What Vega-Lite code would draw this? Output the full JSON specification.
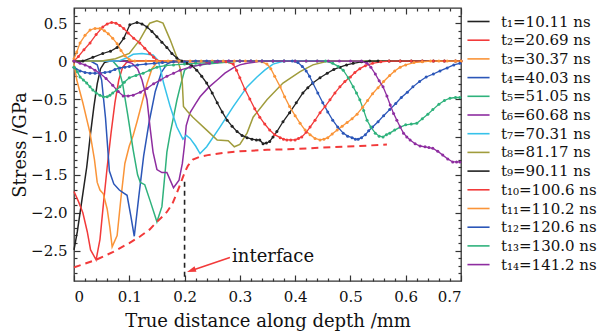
{
"$schema": "https://vega.github.io/schema/vega-lite/v6.json",
"width": 387, "height": 273,
"autosize": {"type": "none"},
"padding": {"left": 74, "top": 8, "right": 145, "bottom": 50},
"background": "white",
"config": {
 "view": {"stroke": "#333", "strokeWidth": 1.3},
 "font": "DejaVu Serif",
 "axis": {"labelFont": "DejaVu Serif", "titleFont": "DejaVu Serif", "labelColor": "#111", "titleColor": "#111", "titleFontWeight": "normal", "grid": false, "domain": false, "tickColor": "#333", "tickWidth": 1.2, "labelFontSize": 15, "titleFontSize": 18}
},
"datasets": {
 "labels": [
  {"k":1,"t":"t₁=10.11 ns"},{"k":2,"t":"t₂=20.69 ns"},{"k":3,"t":"t₃=30.37 ns"},{"k":4,"t":"t₄=40.03 ns"},{"k":5,"t":"t₅=51.05 ns"},{"k":6,"t":"t₆=60.68 ns"},{"k":7,"t":"t₇=70.31 ns"},{"k":8,"t":"t₈=81.17 ns"},{"k":9,"t":"t₉=90.11 ns"},{"k":10,"t":"t₁₀=100.6 ns"},{"k":11,"t":"t₁₁=110.2 ns"},{"k":12,"t":"t₁₂=120.6 ns"},{"k":13,"t":"t₁₃=130.0 ns"},{"k":14,"t":"t₁₄=141.2 ns"}
 ],
 "solid": [
  {"k":1,"x":0,"y":-2.49},{"k":1,"x":0.006,"y":-2.25},{"k":1,"x":0.012,"y":-1.95},{"k":1,"x":0.018,"y":-1.65},{"k":1,"x":0.023,"y":-1.4},{"k":1,"x":0.03,"y":-0.95},{"k":1,"x":0.036,"y":-0.6},{"k":1,"x":0.042,"y":-0.3},{"k":1,"x":0.048,"y":-0.1},{"k":1,"x":0.055,"y":-0.02},{"k":1,"x":0.065,"y":0},{"k":1,"x":0.7,"y":0},
  {"k":2,"x":0,"y":-1.72},{"k":2,"x":0.008,"y":-1.85},{"k":2,"x":0.016,"y":-2.0},{"k":2,"x":0.024,"y":-2.25},{"k":2,"x":0.03,"y":-2.49},{"k":2,"x":0.04,"y":-2.62},{"k":2,"x":0.047,"y":-2.35},{"k":2,"x":0.053,"y":-1.9},{"k":2,"x":0.06,"y":-1.4},{"k":2,"x":0.067,"y":-0.95},{"k":2,"x":0.074,"y":-0.55},{"k":2,"x":0.081,"y":-0.25},{"k":2,"x":0.088,"y":-0.08},{"k":2,"x":0.095,"y":-0.02},{"k":2,"x":0.105,"y":0},{"k":2,"x":0.7,"y":0},
  {"k":3,"x":0,"y":-0.03},{"k":3,"x":0.005,"y":-0.25},{"k":3,"x":0.016,"y":-0.55},{"k":3,"x":0.029,"y":-0.95},{"k":3,"x":0.037,"y":-1.3},{"k":3,"x":0.042,"y":-1.6},{"k":3,"x":0.047,"y":-1.7},{"k":3,"x":0.053,"y":-1.75},{"k":3,"x":0.06,"y":-1.95},{"k":3,"x":0.065,"y":-2.2},{"k":3,"x":0.069,"y":-2.45},{"k":3,"x":0.078,"y":-2.3},{"k":3,"x":0.085,"y":-1.8},{"k":3,"x":0.092,"y":-1.35},{"k":3,"x":0.1,"y":-1.12},{"k":3,"x":0.107,"y":-0.98},{"k":3,"x":0.114,"y":-0.8},{"k":3,"x":0.123,"y":-0.55},{"k":3,"x":0.132,"y":-0.3},{"k":3,"x":0.141,"y":-0.1},{"k":3,"x":0.15,"y":-0.02},{"k":3,"x":0.16,"y":0},{"k":3,"x":0.7,"y":0},
  {"k":4,"x":0,"y":0},{"k":4,"x":0.03,"y":0},{"k":4,"x":0.042,"y":-0.05},{"k":4,"x":0.05,"y":-0.25},{"k":4,"x":0.057,"y":-0.75},{"k":4,"x":0.064,"y":-1.45},{"k":4,"x":0.072,"y":-1.62},{"k":4,"x":0.082,"y":-1.7},{"k":4,"x":0.09,"y":-1.74},{"k":4,"x":0.096,"y":-1.77},{"k":4,"x":0.103,"y":-2.05},{"k":4,"x":0.109,"y":-2.31},{"k":4,"x":0.117,"y":-1.8},{"k":4,"x":0.126,"y":-1.25},{"k":4,"x":0.136,"y":-0.8},{"k":4,"x":0.147,"y":-0.4},{"k":4,"x":0.158,"y":-0.15},{"k":4,"x":0.168,"y":-0.04},{"k":4,"x":0.18,"y":0},{"k":4,"x":0.7,"y":0},
  {"k":5,"x":0,"y":0},{"k":5,"x":0.07,"y":0},{"k":5,"x":0.08,"y":-0.08},{"k":5,"x":0.088,"y":-0.3},{"k":5,"x":0.097,"y":-0.7},{"k":5,"x":0.107,"y":-1.17},{"k":5,"x":0.115,"y":-1.5},{"k":5,"x":0.12,"y":-1.6},{"k":5,"x":0.128,"y":-1.63},{"k":5,"x":0.138,"y":-1.85},{"k":5,"x":0.15,"y":-2.12},{"k":5,"x":0.159,"y":-1.92},{"k":5,"x":0.165,"y":-1.45},{"k":5,"x":0.168,"y":-1.2},{"k":5,"x":0.174,"y":-0.95},{"k":5,"x":0.18,"y":-0.74},{"k":5,"x":0.186,"y":-0.52},{"k":5,"x":0.192,"y":-0.34},{"k":5,"x":0.2,"y":-0.12},{"k":5,"x":0.21,"y":-0.07},{"k":5,"x":0.24,"y":-0.04},{"k":5,"x":0.27,"y":-0.02},{"k":5,"x":0.3,"y":0},{"k":5,"x":0.7,"y":0},
  {"k":6,"x":0,"y":0},{"k":6,"x":0.09,"y":0},{"k":6,"x":0.105,"y":-0.03},{"k":6,"x":0.115,"y":-0.1},{"k":6,"x":0.123,"y":-0.25},{"k":6,"x":0.132,"y":-0.51},{"k":6,"x":0.138,"y":-0.9},{"k":6,"x":0.143,"y":-1.2},{"k":6,"x":0.15,"y":-1.43},{"k":6,"x":0.159,"y":-1.47},{"k":6,"x":0.168,"y":-1.47},{"k":6,"x":0.174,"y":-1.57},{"k":6,"x":0.18,"y":-1.67},{"k":6,"x":0.19,"y":-1.57},{"k":6,"x":0.196,"y":-1.35},{"k":6,"x":0.2,"y":-1.1},{"k":6,"x":0.203,"y":-0.85},{"k":6,"x":0.21,"y":-0.68},{"k":6,"x":0.22,"y":-0.56},{"k":6,"x":0.228,"y":-0.47},{"k":6,"x":0.243,"y":-0.35},{"k":6,"x":0.259,"y":-0.25},{"k":6,"x":0.273,"y":-0.16},{"k":6,"x":0.288,"y":-0.09},{"k":6,"x":0.3,"y":-0.05},{"k":6,"x":0.313,"y":-0.03},{"k":6,"x":0.34,"y":0},{"k":6,"x":0.7,"y":0},
  {"k":7,"x":0,"y":0},{"k":7,"x":0.08,"y":0},{"k":7,"x":0.095,"y":0.04},{"k":7,"x":0.107,"y":0.09},{"k":7,"x":0.123,"y":0.1},{"k":7,"x":0.143,"y":0.08},{"k":7,"x":0.152,"y":0.01},{"k":7,"x":0.157,"y":-0.12},{"k":7,"x":0.162,"y":-0.29},{"k":7,"x":0.174,"y":-0.6},{"k":7,"x":0.186,"y":-0.87},{"k":7,"x":0.197,"y":-1.03},{"k":7,"x":0.203,"y":-0.98},{"k":7,"x":0.21,"y":-1.02},{"k":7,"x":0.22,"y":-1.12},{"k":7,"x":0.228,"y":-1.22},{"k":7,"x":0.24,"y":-1.13},{"k":7,"x":0.264,"y":-0.87},{"k":7,"x":0.288,"y":-0.6},{"k":7,"x":0.313,"y":-0.34},{"k":7,"x":0.331,"y":-0.21},{"k":7,"x":0.345,"y":-0.12},{"k":7,"x":0.36,"y":-0.04},{"k":7,"x":0.38,"y":0},{"k":7,"x":0.7,"y":0},
  {"k":8,"x":0,"y":0},{"k":8,"x":0.05,"y":0},{"k":8,"x":0.075,"y":0.03},{"k":8,"x":0.1,"y":0.1},{"k":8,"x":0.119,"y":0.28},{"k":8,"x":0.13,"y":0.42},{"k":8,"x":0.137,"y":0.5},{"k":8,"x":0.15,"y":0.53},{"k":8,"x":0.161,"y":0.5},{"k":8,"x":0.174,"y":0.28},{"k":8,"x":0.186,"y":0.05},{"k":8,"x":0.193,"y":-0.12},{"k":8,"x":0.196,"y":-0.3},{"k":8,"x":0.198,"y":-0.6},{"k":8,"x":0.205,"y":-0.66},{"k":8,"x":0.215,"y":-0.74},{"k":8,"x":0.24,"y":-0.91},{"k":8,"x":0.259,"y":-1.04},{"k":8,"x":0.279,"y":-1.05},{"k":8,"x":0.29,"y":-1.13},{"k":8,"x":0.3,"y":-1.1},{"k":8,"x":0.313,"y":-0.95},{"k":8,"x":0.324,"y":-0.74},{"k":8,"x":0.349,"y":-0.51},{"k":8,"x":0.378,"y":-0.29},{"k":8,"x":0.409,"y":-0.14},{"k":8,"x":0.432,"y":-0.05},{"k":8,"x":0.46,"y":0},{"k":8,"x":0.7,"y":0}
 ],
 "dotted": [
  {"k":9,"x":0,"y":0},{"k":9,"x":0.016,"y":0},{"k":9,"x":0.034,"y":0.05},{"k":9,"x":0.052,"y":0.1},{"k":9,"x":0.066,"y":0.13},{"k":9,"x":0.078,"y":0.18},{"k":9,"x":0.09,"y":0.3},{"k":9,"x":0.101,"y":0.48},{"k":9,"x":0.114,"y":0.51},{"k":9,"x":0.123,"y":0.49},{"k":9,"x":0.132,"y":0.45},{"k":9,"x":0.141,"y":0.39},{"k":9,"x":0.15,"y":0.32},{"k":9,"x":0.159,"y":0.25},{"k":9,"x":0.168,"y":0.18},{"k":9,"x":0.177,"y":0.1},{"k":9,"x":0.186,"y":0.04},{"k":9,"x":0.195,"y":0.0},{"k":9,"x":0.204,"y":-0.03},{"k":9,"x":0.213,"y":-0.06},{"k":9,"x":0.222,"y":-0.12},{"k":9,"x":0.231,"y":-0.2},{"k":9,"x":0.24,"y":-0.29},{"k":9,"x":0.25,"y":-0.42},{"k":9,"x":0.259,"y":-0.55},{"k":9,"x":0.268,"y":-0.67},{"k":9,"x":0.277,"y":-0.78},{"k":9,"x":0.286,"y":-0.86},{"k":9,"x":0.295,"y":-0.93},{"k":9,"x":0.304,"y":-0.98},{"k":9,"x":0.313,"y":-1.01},{"k":9,"x":0.322,"y":-1.03},{"k":9,"x":0.33,"y":-1.04},{"k":9,"x":0.336,"y":-1.04},{"k":9,"x":0.342,"y":-1.09},{"k":9,"x":0.348,"y":-1.08},{"k":9,"x":0.354,"y":-1.06},{"k":9,"x":0.36,"y":-1.0},{"k":9,"x":0.367,"y":-0.93},{"k":9,"x":0.378,"y":-0.8},{"k":9,"x":0.39,"y":-0.68},{"k":9,"x":0.402,"y":-0.55},{"k":9,"x":0.414,"y":-0.42},{"k":9,"x":0.423,"y":-0.35},{"k":9,"x":0.432,"y":-0.29},{"k":9,"x":0.445,"y":-0.22},{"k":9,"x":0.458,"y":-0.16},{"k":9,"x":0.47,"y":-0.11},{"k":9,"x":0.481,"y":-0.08},{"k":9,"x":0.493,"y":-0.05},{"k":9,"x":0.505,"y":-0.03},{"k":9,"x":0.52,"y":-0.01},{"k":9,"x":0.535,"y":0},{"k":9,"x":0.55,"y":0},{"k":9,"x":0.57,"y":0},{"k":9,"x":0.59,"y":0},{"k":9,"x":0.61,"y":0},{"k":9,"x":0.63,"y":0},{"k":9,"x":0.65,"y":0},{"k":9,"x":0.67,"y":0},{"k":9,"x":0.69,"y":0},{"k":9,"x":0.7,"y":0},
  {"k":10,"x":0,"y":0},{"k":10,"x":0.008,"y":0.06},{"k":10,"x":0.018,"y":0.15},{"k":10,"x":0.029,"y":0.24},{"k":10,"x":0.04,"y":0.35},{"k":10,"x":0.052,"y":0.45},{"k":10,"x":0.06,"y":0.49},{"k":10,"x":0.068,"y":0.51},{"k":10,"x":0.076,"y":0.5},{"k":10,"x":0.083,"y":0.47},{"k":10,"x":0.09,"y":0.43},{"k":10,"x":0.098,"y":0.37},{"k":10,"x":0.108,"y":0.3},{"k":10,"x":0.119,"y":0.24},{"k":10,"x":0.128,"y":0.17},{"k":10,"x":0.137,"y":0.1},{"k":10,"x":0.144,"y":0.05},{"k":10,"x":0.15,"y":0.01},{"k":10,"x":0.16,"y":-0.01},{"k":10,"x":0.18,"y":-0.01},{"k":10,"x":0.2,"y":-0.01},{"k":10,"x":0.22,"y":-0.01},{"k":10,"x":0.24,"y":-0.01},{"k":10,"x":0.26,"y":-0.01},{"k":10,"x":0.275,"y":-0.01},{"k":10,"x":0.288,"y":-0.04},{"k":10,"x":0.294,"y":-0.12},{"k":10,"x":0.3,"y":-0.22},{"k":10,"x":0.309,"y":-0.37},{"k":10,"x":0.318,"y":-0.5},{"k":10,"x":0.327,"y":-0.63},{"k":10,"x":0.336,"y":-0.74},{"k":10,"x":0.345,"y":-0.83},{"k":10,"x":0.354,"y":-0.91},{"k":10,"x":0.363,"y":-0.97},{"k":10,"x":0.373,"y":-1.01},{"k":10,"x":0.379,"y":-1.03},{"k":10,"x":0.385,"y":-1.04},{"k":10,"x":0.392,"y":-1.04},{"k":10,"x":0.4,"y":-1.04},{"k":10,"x":0.406,"y":-1.02},{"k":10,"x":0.412,"y":-1.0},{"k":10,"x":0.42,"y":-0.94},{"k":10,"x":0.427,"y":-0.87},{"k":10,"x":0.436,"y":-0.78},{"k":10,"x":0.445,"y":-0.68},{"k":10,"x":0.454,"y":-0.6},{"k":10,"x":0.463,"y":-0.51},{"k":10,"x":0.472,"y":-0.42},{"k":10,"x":0.481,"y":-0.34},{"k":10,"x":0.49,"y":-0.27},{"k":10,"x":0.5,"y":-0.21},{"k":10,"x":0.508,"y":-0.15},{"k":10,"x":0.517,"y":-0.1},{"k":10,"x":0.527,"y":-0.06},{"k":10,"x":0.54,"y":-0.03},{"k":10,"x":0.555,"y":-0.01},{"k":10,"x":0.57,"y":0},{"k":10,"x":0.59,"y":0},{"k":10,"x":0.61,"y":0},{"k":10,"x":0.63,"y":0},{"k":10,"x":0.65,"y":0},{"k":10,"x":0.67,"y":0},{"k":10,"x":0.69,"y":0},{"k":10,"x":0.7,"y":0},
  {"k":11,"x":0,"y":0.03},{"k":11,"x":0.005,"y":0.12},{"k":11,"x":0.011,"y":0.24},{"k":11,"x":0.02,"y":0.34},{"k":11,"x":0.029,"y":0.41},{"k":11,"x":0.038,"y":0.43},{"k":11,"x":0.047,"y":0.43},{"k":11,"x":0.055,"y":0.4},{"k":11,"x":0.062,"y":0.36},{"k":11,"x":0.07,"y":0.3},{"k":11,"x":0.078,"y":0.23},{"k":11,"x":0.085,"y":0.14},{"k":11,"x":0.092,"y":0.07},{"k":11,"x":0.1,"y":0.02},{"k":11,"x":0.11,"y":0},{"k":11,"x":0.13,"y":0},{"k":11,"x":0.15,"y":0},{"k":11,"x":0.17,"y":0},{"k":11,"x":0.19,"y":0},{"k":11,"x":0.21,"y":0},{"k":11,"x":0.23,"y":0},{"k":11,"x":0.25,"y":0},{"k":11,"x":0.27,"y":0},{"k":11,"x":0.29,"y":0},{"k":11,"x":0.31,"y":0},{"k":11,"x":0.33,"y":0},{"k":11,"x":0.34,"y":-0.01},{"k":11,"x":0.349,"y":-0.04},{"k":11,"x":0.356,"y":-0.1},{"k":11,"x":0.363,"y":-0.2},{"k":11,"x":0.373,"y":-0.34},{"k":11,"x":0.381,"y":-0.47},{"k":11,"x":0.39,"y":-0.6},{"k":11,"x":0.4,"y":-0.72},{"k":11,"x":0.409,"y":-0.82},{"k":11,"x":0.418,"y":-0.91},{"k":11,"x":0.427,"y":-0.97},{"k":11,"x":0.436,"y":-1.02},{"k":11,"x":0.445,"y":-1.04},{"k":11,"x":0.452,"y":-1.03},{"k":11,"x":0.459,"y":-1.01},{"k":11,"x":0.467,"y":-0.96},{"k":11,"x":0.476,"y":-0.91},{"k":11,"x":0.485,"y":-0.86},{"k":11,"x":0.494,"y":-0.81},{"k":11,"x":0.503,"y":-0.76},{"k":11,"x":0.512,"y":-0.7},{"k":11,"x":0.522,"y":-0.61},{"k":11,"x":0.531,"y":-0.52},{"k":11,"x":0.54,"y":-0.43},{"k":11,"x":0.55,"y":-0.35},{"k":11,"x":0.56,"y":-0.27},{"k":11,"x":0.571,"y":-0.19},{"k":11,"x":0.58,"y":-0.13},{"k":11,"x":0.59,"y":-0.08},{"k":11,"x":0.6,"y":-0.05},{"k":11,"x":0.615,"y":-0.02},{"k":11,"x":0.63,"y":-0.01},{"k":11,"x":0.645,"y":0},{"k":11,"x":0.66,"y":0},{"k":11,"x":0.675,"y":0},{"k":11,"x":0.69,"y":0},{"k":11,"x":0.7,"y":0},
  {"k":12,"x":0,"y":-0.08},{"k":12,"x":0.011,"y":-0.13},{"k":12,"x":0.02,"y":-0.15},{"k":12,"x":0.029,"y":-0.16},{"k":12,"x":0.038,"y":-0.16},{"k":12,"x":0.047,"y":-0.16},{"k":12,"x":0.056,"y":-0.15},{"k":12,"x":0.065,"y":-0.14},{"k":12,"x":0.074,"y":-0.11},{"k":12,"x":0.083,"y":-0.09},{"k":12,"x":0.092,"y":-0.08},{"k":12,"x":0.1,"y":-0.07},{"k":12,"x":0.115,"y":-0.05},{"k":12,"x":0.13,"y":-0.04},{"k":12,"x":0.145,"y":-0.03},{"k":12,"x":0.16,"y":-0.02},{"k":12,"x":0.18,"y":-0.01},{"k":12,"x":0.2,"y":-0.01},{"k":12,"x":0.22,"y":0},{"k":12,"x":0.24,"y":0},{"k":12,"x":0.26,"y":0},{"k":12,"x":0.28,"y":0},{"k":12,"x":0.3,"y":0},{"k":12,"x":0.32,"y":0},{"k":12,"x":0.34,"y":0},{"k":12,"x":0.36,"y":0},{"k":12,"x":0.38,"y":0},{"k":12,"x":0.395,"y":0},{"k":12,"x":0.405,"y":-0.02},{"k":12,"x":0.413,"y":-0.07},{"k":12,"x":0.42,"y":-0.13},{"k":12,"x":0.426,"y":-0.2},{"k":12,"x":0.432,"y":-0.29},{"k":12,"x":0.441,"y":-0.42},{"k":12,"x":0.45,"y":-0.55},{"k":12,"x":0.459,"y":-0.67},{"k":12,"x":0.468,"y":-0.78},{"k":12,"x":0.477,"y":-0.87},{"k":12,"x":0.487,"y":-0.95},{"k":12,"x":0.495,"y":-0.99},{"k":12,"x":0.503,"y":-1.01},{"k":12,"x":0.509,"y":-1.03},{"k":12,"x":0.514,"y":-1.03},{"k":12,"x":0.52,"y":-1.01},{"k":12,"x":0.527,"y":-0.97},{"k":12,"x":0.533,"y":-0.92},{"k":12,"x":0.54,"y":-0.87},{"k":12,"x":0.55,"y":-0.8},{"k":12,"x":0.56,"y":-0.72},{"k":12,"x":0.571,"y":-0.64},{"k":12,"x":0.582,"y":-0.56},{"k":12,"x":0.592,"y":-0.48},{"k":12,"x":0.603,"y":-0.41},{"k":12,"x":0.613,"y":-0.34},{"k":12,"x":0.625,"y":-0.27},{"k":12,"x":0.637,"y":-0.21},{"k":12,"x":0.65,"y":-0.17},{"k":12,"x":0.662,"y":-0.13},{"k":12,"x":0.675,"y":-0.09},{"k":12,"x":0.687,"y":-0.05},{"k":12,"x":0.698,"y":-0.03},
  {"k":13,"x":0,"y":-0.08},{"k":13,"x":0.006,"y":-0.14},{"k":13,"x":0.011,"y":-0.21},{"k":13,"x":0.017,"y":-0.25},{"k":13,"x":0.023,"y":-0.29},{"k":13,"x":0.029,"y":-0.34},{"k":13,"x":0.034,"y":-0.38},{"k":13,"x":0.04,"y":-0.42},{"k":13,"x":0.047,"y":-0.45},{"k":13,"x":0.053,"y":-0.47},{"k":13,"x":0.06,"y":-0.47},{"k":13,"x":0.065,"y":-0.45},{"k":13,"x":0.07,"y":-0.42},{"k":13,"x":0.077,"y":-0.38},{"k":13,"x":0.083,"y":-0.34},{"k":13,"x":0.091,"y":-0.28},{"k":13,"x":0.1,"y":-0.22},{"k":13,"x":0.112,"y":-0.19},{"k":13,"x":0.125,"y":-0.16},{"k":13,"x":0.137,"y":-0.12},{"k":13,"x":0.15,"y":-0.08},{"k":13,"x":0.165,"y":-0.06},{"k":13,"x":0.18,"y":-0.05},{"k":13,"x":0.2,"y":-0.04},{"k":13,"x":0.22,"y":-0.03},{"k":13,"x":0.25,"y":-0.02},{"k":13,"x":0.28,"y":-0.01},{"k":13,"x":0.3,"y":0},{"k":13,"x":0.32,"y":0},{"k":13,"x":0.34,"y":0},{"k":13,"x":0.36,"y":0},{"k":13,"x":0.38,"y":0},{"k":13,"x":0.4,"y":0},{"k":13,"x":0.42,"y":0},{"k":13,"x":0.44,"y":0},{"k":13,"x":0.455,"y":0},{"k":13,"x":0.468,"y":-0.03},{"k":13,"x":0.478,"y":-0.07},{"k":13,"x":0.487,"y":-0.12},{"k":13,"x":0.496,"y":-0.22},{"k":13,"x":0.505,"y":-0.34},{"k":13,"x":0.511,"y":-0.42},{"k":13,"x":0.517,"y":-0.51},{"k":13,"x":0.524,"y":-0.65},{"k":13,"x":0.53,"y":-0.78},{"k":13,"x":0.537,"y":-0.87},{"k":13,"x":0.545,"y":-0.95},{"k":13,"x":0.552,"y":-0.99},{"k":13,"x":0.559,"y":-1.0},{"k":13,"x":0.565,"y":-0.97},{"k":13,"x":0.571,"y":-0.95},{"k":13,"x":0.58,"y":-0.91},{"k":13,"x":0.59,"y":-0.87},{"k":13,"x":0.6,"y":-0.84},{"k":13,"x":0.61,"y":-0.83},{"k":13,"x":0.62,"y":-0.82},{"k":13,"x":0.63,"y":-0.76},{"k":13,"x":0.64,"y":-0.7},{"k":13,"x":0.649,"y":-0.64},{"k":13,"x":0.66,"y":-0.57},{"k":13,"x":0.67,"y":-0.52},{"k":13,"x":0.68,"y":-0.49},{"k":13,"x":0.69,"y":-0.48},{"k":13,"x":0.698,"y":-0.48},
  {"k":14,"x":0,"y":0},{"k":14,"x":0.011,"y":-0.03},{"k":14,"x":0.02,"y":-0.05},{"k":14,"x":0.029,"y":-0.08},{"k":14,"x":0.038,"y":-0.12},{"k":14,"x":0.047,"y":-0.16},{"k":14,"x":0.058,"y":-0.23},{"k":14,"x":0.07,"y":-0.32},{"k":14,"x":0.08,"y":-0.4},{"k":14,"x":0.089,"y":-0.46},{"k":14,"x":0.098,"y":-0.46},{"k":14,"x":0.107,"y":-0.45},{"k":14,"x":0.12,"y":-0.41},{"k":14,"x":0.132,"y":-0.36},{"k":14,"x":0.144,"y":-0.3},{"k":14,"x":0.156,"y":-0.25},{"k":14,"x":0.168,"y":-0.2},{"k":14,"x":0.18,"y":-0.16},{"k":14,"x":0.192,"y":-0.12},{"k":14,"x":0.21,"y":-0.08},{"k":14,"x":0.228,"y":-0.05},{"k":14,"x":0.245,"y":-0.03},{"k":14,"x":0.259,"y":-0.01},{"k":14,"x":0.28,"y":0},{"k":14,"x":0.3,"y":0},{"k":14,"x":0.32,"y":0},{"k":14,"x":0.34,"y":0},{"k":14,"x":0.36,"y":0},{"k":14,"x":0.38,"y":0},{"k":14,"x":0.4,"y":0},{"k":14,"x":0.42,"y":0},{"k":14,"x":0.44,"y":0},{"k":14,"x":0.46,"y":0},{"k":14,"x":0.48,"y":0},{"k":14,"x":0.5,"y":0},{"k":14,"x":0.52,"y":0},{"k":14,"x":0.53,"y":-0.03},{"k":14,"x":0.537,"y":-0.08},{"k":14,"x":0.545,"y":-0.17},{"k":14,"x":0.552,"y":-0.26},{"k":14,"x":0.559,"y":-0.34},{"k":14,"x":0.566,"y":-0.46},{"k":14,"x":0.572,"y":-0.58},{"k":14,"x":0.578,"y":-0.69},{"k":14,"x":0.584,"y":-0.78},{"k":14,"x":0.59,"y":-0.87},{"k":14,"x":0.596,"y":-0.95},{"k":14,"x":0.602,"y":-1.0},{"k":14,"x":0.608,"y":-1.04},{"k":14,"x":0.617,"y":-1.09},{"k":14,"x":0.626,"y":-1.12},{"k":14,"x":0.635,"y":-1.13},{"k":14,"x":0.642,"y":-1.14},{"k":14,"x":0.649,"y":-1.15},{"k":14,"x":0.658,"y":-1.19},{"k":14,"x":0.667,"y":-1.24},{"k":14,"x":0.676,"y":-1.29},{"k":14,"x":0.685,"y":-1.33},{"k":14,"x":0.692,"y":-1.33},{"k":14,"x":0.698,"y":-1.33}
 ],
 "env": [
  {"x":0,"y":-2.72},{"x":0.02,"y":-2.67},{"x":0.04,"y":-2.62},{"x":0.07,"y":-2.52},{"x":0.1,"y":-2.4},{"x":0.12,"y":-2.31},{"x":0.137,"y":-2.22},{"x":0.15,"y":-2.12},{"x":0.16,"y":-2.05},{"x":0.168,"y":-1.99},{"x":0.178,"y":-1.88},{"x":0.186,"y":-1.74},{"x":0.192,"y":-1.63},{"x":0.197,"y":-1.53},{"x":0.202,"y":-1.44},{"x":0.206,"y":-1.38},{"x":0.215,"y":-1.3},{"x":0.228,"y":-1.26},{"x":0.242,"y":-1.24},{"x":0.27,"y":-1.21},{"x":0.3,"y":-1.19},{"x":0.35,"y":-1.17},{"x":0.4,"y":-1.16},{"x":0.45,"y":-1.14},{"x":0.517,"y":-1.12},{"x":0.566,"y":-1.1}
 ]
},
"layer": [
 {
  "data": {"name": "solid"},
  "transform": [{"lookup": "k", "from": {"data": {"name": "labels"}, "key": "k", "fields": ["t"]}}],
  "mark": {"type": "line", "strokeWidth": 1.5},
  "encoding": {
   "x": {"field": "x", "type": "quantitative", "scale": {"domain": [0, 0.7], "nice": false, "zero": false},
         "axis": {"orient": "bottom", "values": [0,0.1,0.2,0.3,0.4,0.5,0.6,0.7], "tickSize": -6, "labelPadding": 14, "labelExpr": "datum.value == 0 ? '0' : format(datum.value, '.1f')", "title": "True distance along depth /mm", "titlePadding": 8}},
   "y": {"field": "y", "type": "quantitative", "scale": {"domain": [-2.9, 0.7], "nice": false, "zero": false},
         "axis": {"orient": "left", "values": [-2.5,-2,-1.5,-1,-0.5,0,0.5], "tickSize": -6, "labelPadding": 13, "labelExpr": "datum.value == 0 ? '0' : format(datum.value, '.1f')", "title": "Stress /GPa", "titlePadding": 1}},
   "color": {"field": "t", "type": "nominal",
     "scale": {"domain": ["t₁=10.11 ns","t₂=20.69 ns","t₃=30.37 ns","t₄=40.03 ns","t₅=51.05 ns","t₆=60.68 ns","t₇=70.31 ns","t₈=81.17 ns","t₉=90.11 ns","t₁₀=100.6 ns","t₁₁=110.2 ns","t₁₂=120.6 ns","t₁₃=130.0 ns","t₁₄=141.2 ns"],
               "range": ["#222222","#f23a3a","#fa9438","#2b56b8","#2fb27c","#8e2da0","#36c2ea","#a09c3c","#222222","#f23a3a","#fa9438","#2b56b8","#2fb27c","#8e2da0"]},
     "legend": {"orient": "none", "legendX": 395, "legendY": 4, "title": null, "symbolType": "M-1.3,0H1.3", "symbolSize": 289, "symbolStrokeWidth": 1.6, "labelFont": "DejaVu Serif", "labelFontSize": 15, "labelColor": "#111", "rowPadding": 0.7, "labelOffset": 13}}
  }
 },
 {
  "data": {"name": "dotted"},
  "transform": [{"lookup": "k", "from": {"data": {"name": "labels"}, "key": "k", "fields": ["t"]}}],
  "mark": {"type": "line", "strokeWidth": 1.3, "point": {"filled": true, "size": 9}},
  "encoding": {
   "x": {"field": "x", "type": "quantitative", "axis": {"orient": "bottom", "values": [0.02,0.04,0.06,0.08,0.12,0.14,0.16,0.18,0.22,0.24,0.26,0.28,0.32,0.34,0.36,0.38,0.42,0.44,0.46,0.48,0.52,0.54,0.56,0.58,0.62,0.64,0.66,0.68], "tickSize": -3, "labels": false, "title": null}},
   "y": {"field": "y", "type": "quantitative", "axis": {"orient": "left", "values": [-2.8,-2.7,-2.6,-2.4,-2.3,-2.2,-2.1,-1.9,-1.8,-1.7,-1.6,-1.4,-1.3,-1.2,-1.1,-0.9,-0.8,-0.7,-0.6,-0.4,-0.3,-0.2,-0.1,0.1,0.2,0.3,0.4,0.6], "tickSize": -3, "labels": false, "title": null}},
   "color": {"field": "t", "type": "nominal", "legend": null}
  }
 },
 {
  "data": {"name": "env"},
  "mark": {"type": "line", "color": "#f23a3a", "strokeWidth": 2, "strokeDash": [7, 5]},
  "encoding": {
   "x": {"field": "x", "type": "quantitative", "axis": {"orient": "top", "values": [0,0.1,0.2,0.3,0.4,0.5,0.6,0.7], "tickSize": -6, "labels": false, "title": null}},
   "y": {"field": "y", "type": "quantitative", "axis": {"orient": "right", "values": [-2.5,-2,-1.5,-1,-0.5,0,0.5], "tickSize": -6, "labels": false, "title": null}}
  }
 },
 {
  "data": {"values": [{"x": 0.2, "y": -1.59, "y2": -2.9}]},
  "mark": {"type": "rule", "color": "#222", "strokeWidth": 1.6, "strokeDash": [5, 4]},
  "encoding": {
   "x": {"field": "x", "type": "quantitative", "axis": {"orient": "top", "values": [0.02,0.04,0.06,0.08,0.12,0.14,0.16,0.18,0.22,0.24,0.26,0.28,0.32,0.34,0.36,0.38,0.42,0.44,0.46,0.48,0.52,0.54,0.56,0.58,0.62,0.64,0.66,0.68], "tickSize": -3, "labels": false, "title": null}},
   "y": {"field": "y", "type": "quantitative", "axis": {"orient": "right", "values": [-2.8,-2.7,-2.6,-2.4,-2.3,-2.2,-2.1,-1.9,-1.8,-1.7,-1.6,-1.4,-1.3,-1.2,-1.1,-0.9,-0.8,-0.7,-0.6,-0.4,-0.3,-0.2,-0.1,0.1,0.2,0.3,0.4,0.6], "tickSize": -3, "labels": false, "title": null}},
   "y2": {"field": "y2"}
  }
 },
 {
  "data": {"values": [{"x": 0.282, "y": -2.59, "x2": 0.214, "y2": -2.757}]},
  "mark": {"type": "rule", "color": "#f23a3a", "strokeWidth": 1.6},
  "encoding": {
   "x": {"field": "x", "type": "quantitative", "axis": null},
   "y": {"field": "y", "type": "quantitative", "axis": null},
   "x2": {"field": "x2"}, "y2": {"field": "y2"}
  }
 },
 {
  "data": {"values": [{"x": 0.2121, "y": -2.762}]},
  "mark": {"type": "point", "shape": "M0,-1L0.65,1L-0.65,1Z", "filled": true, "color": "#f23a3a", "size": 80, "angle": 251, "opacity": 1},
  "encoding": {
   "x": {"field": "x", "type": "quantitative", "axis": null},
   "y": {"field": "y", "type": "quantitative", "axis": null}
  }
 },
 {
  "data": {"values": [{"x": 0.286, "y": -2.58, "label": "interface"}]},
  "mark": {"type": "text", "align": "left", "baseline": "middle", "font": "DejaVu Serif", "fontSize": 18, "color": "#111"},
  "encoding": {
   "x": {"field": "x", "type": "quantitative", "axis": null},
   "y": {"field": "y", "type": "quantitative", "axis": null},
   "text": {"field": "label"}
  }
 }
],
"resolve": {"axis": {"x": "independent", "y": "independent"}}
}
